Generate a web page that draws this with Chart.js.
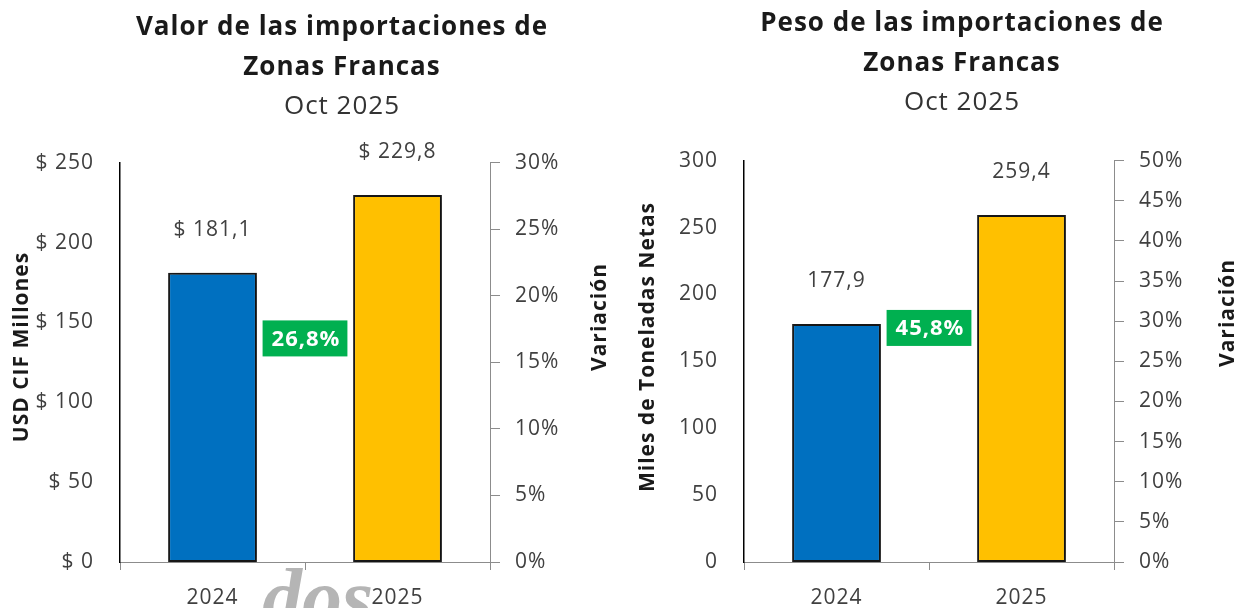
<!DOCTYPE html>
<html lang="es">
<head>
<meta charset="UTF-8">
<title>Importaciones de Zonas Francas</title>
<script src="https://cdn.jsdelivr.net/npm/chart.js"></script>
<style>
  html, body { margin: 0; padding: 0; background: #fff; overflow: hidden; width: 1236px; height: 608px; }
  .wrap { position: absolute; top: 0; height: 608px; }
</style>
</head>
<body>
<div class="wrap" style="left:0;width:684px"><canvas id="valorChart"></canvas></div>
<div class="wrap" style="left:630px;width:664px"><canvas id="pesoChart"></canvas></div>

<script>
  // data
  const years = ['2024', '2025'];
  const valorUsd = [181.1, 229.8];     // USD CIF millones
  const pesoTon = [177.9, 259.4];      // miles de toneladas netas
  const variacionValor = 26.8;         // %
  const variacionPeso = 45.8;          // %
  const barColors = ['#0070C0', '#FFC000'];

  const FONT = "'Open Sans', sans-serif";
  const TEXT = '#404040';
  const AXIS_GREY = '#8c8c8c';
  const TICK_SIZE = 21;

  function comma(v) {
    return v.toFixed(1).replace('.', ',');
  }

  // the source text is drawn a little wider than Open Sans
  const wideText = {
    id: 'wideText',
    beforeDraw(chart) {
      if ('letterSpacing' in chart.ctx) chart.ctx.letterSpacing = '1px';
    }
  };

  // soft shadow on the right of the bars
  const barShadow = {
    id: 'barShadow',
    beforeDatasetDraw(chart) {
      const c = chart.ctx;
      c.save();
      c.shadowColor = 'rgba(0,0,0,0.35)';
      c.shadowBlur = 8;
      c.shadowOffsetX = 5;
    },
    afterDatasetDraw(chart) {
      chart.ctx.restore();
    }
  };

  // value above each bar
  const valueLabels = {
    id: 'valueLabels',
    afterDatasetsDraw(chart, args, opts) {
      const ctx = chart.ctx;
      const ds = chart.data.datasets[0].data;
      ctx.save();
      ctx.font = '21px ' + FONT;
      ctx.fillStyle = TEXT;
      ctx.textAlign = 'center';
      ctx.textBaseline = 'middle';
      chart.getDatasetMeta(0).data.forEach((bar, i) => {
        ctx.fillText(opts.prefix + comma(ds[i]), bar.x, bar.y - 43);
      });
      ctx.restore();
    }
  };

  // green box with the variation, between the two bars
  const variationBadge = {
    id: 'variationBadge',
    afterDatasetsDraw(chart, args, opts) {
      const ctx = chart.ctx;
      const x = chart.scales.x, y = chart.scales.y;
      const cx = (x.getPixelForValue(0) + x.getPixelForValue(1)) / 2;
      const cy = y.getPixelForValue(opts.at);
      const text = comma(opts.value) + '%';
      ctx.save();
      ctx.font = 'bold 22px ' + FONT;
      const w = ctx.measureText(text).width + 16, h = 36;
      ctx.fillStyle = '#00B050';
      ctx.fillRect(cx - w / 2, cy - h / 2, w, h);
      ctx.fillStyle = '#fff';
      ctx.textAlign = 'center';
      ctx.textBaseline = 'middle';
      ctx.fillText(text, cx + 1, cy + 1);
      ctx.restore();
    }
  };

  // rotated axis titles (both read bottom to top)
  const sideTitles = {
    id: 'sideTitles',
    afterDraw(chart, args, opts) {
      const ctx = chart.ctx;
      ctx.save();
      ctx.font = 'bold 21px ' + FONT;
      ctx.fillStyle = '#1a1a1a';
      ctx.textAlign = 'center';
      ctx.textBaseline = 'middle';
      opts.items.forEach(t => {
        ctx.save();
        ctx.translate(t.x, t.y);
        ctx.rotate(-Math.PI / 2);
        ctx.fillText(t.text, 0, 0);
        ctx.restore();
      });
      ctx.restore();
    }
  };

  // grey watermark fragment under the x labels
  const watermark = {
    id: 'watermark',
    beforeDraw(chart, args, opts) {
      if (!opts.text) return;
      const ctx = chart.ctx;
      ctx.save();
      ctx.letterSpacing = '0px';
      ctx.font = 'italic bold 80px "Liberation Serif", serif';
      ctx.fillStyle = '#b5b5b5';
      ctx.textBaseline = 'alphabetic';
      ctx.fillText(opts.text, opts.x, opts.y);
      ctx.restore();
    }
  };

  function makeChart(id, o) {
    return new Chart(document.getElementById(id), {
      type: 'bar',
      data: {
        labels: years,
        datasets: [{
          data: o.values,
          backgroundColor: barColors,
          borderColor: '#1a1a1a',
          borderWidth: 2,
          borderSkipped: false,
          categoryPercentage: 1,
          barPercentage: 0.48
        }]
      },
      options: {
        responsive: true,
        maintainAspectRatio: false,
        animation: false,
        layout: { padding: 0 },
        plugins: {
          legend: { display: false },
          tooltip: { enabled: false },
          title: {
            display: true,
            text: o.title,
            color: '#1a1a1a',
            font: { family: FONT, size: 26, weight: 'bold', lineHeight: 1.52 },
            padding: { top: o.titleTop, bottom: 0 }
          },
          subtitle: {
            display: true,
            text: 'Oct 2025',
            color: '#333',
            font: { family: FONT, size: 26, lineHeight: 1.45 },
            padding: { top: 1, bottom: o.subBottom }
          },
          valueLabels: { prefix: o.prefix },
          variationBadge: { value: o.variation, at: o.badgeAt },
          sideTitles: { items: o.sideTitles },
          watermark: o.watermark || {}
        },
        scales: {
          x: {
            afterFit: s => { s.height = 46; },
            grid: { display: true, drawOnChartArea: false, offset: true, tickLength: 8, color: AXIS_GREY },
            border: { color: AXIS_GREY, width: 1 },
            ticks: { font: { family: FONT, size: TICK_SIZE }, color: TEXT, padding: 15 }
          },
          y: {
            min: 0,
            max: o.yMax,
            afterFit: s => { s.width = o.leftWidth; },
            grid: { display: false, drawTicks: false },
            border: { color: '#000', width: 1.5 },
            ticks: {
              stepSize: o.yStep,
              padding: 26,
              color: TEXT,
              font: { family: FONT, size: TICK_SIZE },
              callback: v => o.prefix + v
            }
          },
          y1: {
            position: 'right',
            min: 0,
            max: o.pMax,
            afterFit: s => { s.width = o.rightWidth; },
            grid: { display: true, drawOnChartArea: false, tickLength: 10, color: AXIS_GREY },
            border: { color: AXIS_GREY, width: 1 },
            ticks: {
              stepSize: 5,
              padding: 15,
              color: TEXT,
              font: { family: FONT, size: TICK_SIZE },
              callback: v => v + '%'
            }
          }
        }
      },
      plugins: [wideText, barShadow, valueLabels, variationBadge, sideTitles, watermark]
    });
  }

  makeChart('valorChart', {
    values: valorUsd,
    title: ['Valor de las importaciones de', 'Zonas Francas'],
    titleTop: 8,
    subBottom: 37,
    prefix: '$ ',
    yMax: 250,
    yStep: 50,
    pMax: 30,
    variation: variacionValor,
    badgeAt: 140,
    leftWidth: 120,
    rightWidth: 194,
    sideTitles: [
      { text: 'USD CIF Millones', x: 22, y: 347 },
      { text: 'Variación', x: 600, y: 317 }
    ],
    watermark: { text: 'dos', x: 262, y: 624 }
  });

  makeChart('pesoChart', {
    values: pesoTon,
    title: ['Peso de las importaciones de', 'Zonas Francas'],
    titleTop: 4,
    subBottom: 39,
    prefix: '',
    yMax: 300,
    yStep: 50,
    pMax: 50,
    variation: variacionPeso,
    badgeAt: 175,
    leftWidth: 114,
    rightWidth: 180,
    sideTitles: [
      { text: 'Miles de Toneladas Netas', x: 18, y: 347 },
      { text: 'Variación', x: 598, y: 313 }
    ]
  });
</script>
</body>
</html>
